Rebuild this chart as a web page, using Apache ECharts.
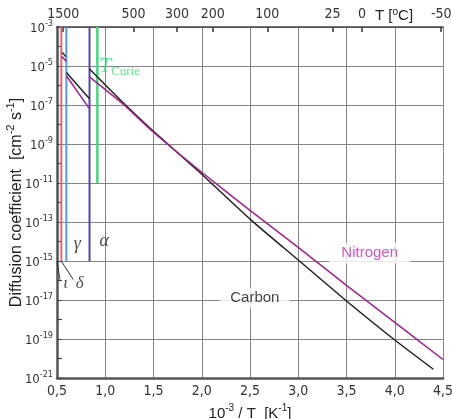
<!DOCTYPE html>
<html>
<head>
<meta charset="UTF-8">
<title>Diffusion coefficient</title>
<script src="https://cdn.jsdelivr.net/npm/echarts@6/dist/echarts.min.js"></script>
<style>
  html, body { margin: 0; padding: 0; background: #fff; }
</style>
</head>
<body>
<div id="main" style="width:452px;height:419px;"></div>
<script type="text/javascript">
// x = 1000/T [1/K], y = log10 of D [cm^2/s]
var tempTicksC = [1500, 500, 300, 200, 100, 25, 0, -50];
var xTicks = [0.5, 1.0, 1.5, 2.0, 2.5, 3.0, 3.5, 4.0, 4.5];

// phase boundaries: liquid/delta, delta/gamma, gamma/alpha, Curie
var phaseX = [0.545, 0.597, 0.837, 0.918];
var phaseBottom = [-15, -15, -15, -11];
var phaseColors = ['#e06a6a', '#4d9be8', '#4b4aa8', '#3ae07a'];

// carbon (black)
var carbonDelta = [[0.555, -4.30], [0.590, -4.52]];
var carbonGamma = [[0.597, -5.33], [0.837, -6.68]];
var carbonAlpha = [[0.837, -5.15], [1.2, -6.95], [1.5, -8.35], [2.0, -10.55], [2.5, -12.85],
                   [3.0, -14.95], [3.5, -17.05], [4.0, -19.05], [4.4, -20.55]];

// nitrogen (magenta)
var nitroDelta = [[0.550, -4.52], [0.597, -4.75]];
var nitroGamma = [[0.597, -5.50], [0.837, -7.20]];
var nitroAlpha = [[0.837, -5.56], [1.2, -7.02], [1.5, -8.40], [2.0, -10.45], [2.5, -12.40],
                  [3.0, -14.30], [3.5, -16.25], [4.0, -18.15], [4.5, -20.05]];

// text labels inside the plot
var annoText = ['Carbon', 'Nitrogen', 'γ', 'α', 'ι', 'δ'];
var annoX = [2.55, 3.74, 0.71, 0.99, 0.59, 0.735];
var annoY = [-16.9, -14.6, -14.15, -14.0, -16.15, -16.15];

var leaderLines = [
  [[0.500, -15.0], [0.530, -15.95]],
  [[0.548, -15.03], [0.668, -15.95]]
];

var myChart = echarts.init(document.getElementById('main'));

var tickFont = "'DejaVu Sans Condensed', 'Liberation Sans', sans-serif";
var CARBON = '#222222';
var NITRO = '#a3208c';

function nearestTemp(v) {
  var best = tempTicksC[0], d = 1e9;
  for (var i = 0; i < tempTicksC.length; i++) {
    var p = 1000 / (tempTicksC[i] + 273.15);
    if (Math.abs(p - v) < d) { d = Math.abs(p - v); best = tempTicksC[i]; }
  }
  return best;
}
var tempPos = tempTicksC.map(function (t) { return 1000 / (t + 273.15); });

var series = [];
// phase boundary lines
for (var i = 0; i < phaseX.length; i++) {
  series.push({
    type: 'line', data: [[phaseX[i], -3], [phaseX[i], phaseBottom[i]]],
    symbol: 'none', silent: true,
    lineStyle: { color: phaseColors[i], width: i == 3 ? 2.5 : 2 }
  });
}
[carbonDelta, carbonGamma, carbonAlpha].forEach(function (d) {
  series.push({ type: 'line', data: d, symbol: 'none', smooth: 0.2,
    lineStyle: { color: CARBON, width: 1.5 } });
});
[nitroDelta, nitroGamma, nitroAlpha].forEach(function (d) {
  series.push({ type: 'line', data: d, symbol: 'none', smooth: 0.2,
    lineStyle: { color: NITRO, width: 1.5 } });
});
leaderLines.forEach(function (d) {
  series.push({ type: 'line', data: d, symbol: 'none',
    lineStyle: { color: '#333', width: 1 } });
});

// annotation labels
var annoStyles = [
  { color: '#111', fontSize: 15, fontFamily: 'Liberation Sans', backgroundColor: '#fff', padding: [3, 10] },
  { color: '#c02eb0', fontSize: 15, fontFamily: 'Liberation Sans', backgroundColor: '#fff', padding: [3, 12] },
  { color: '#222', fontSize: 18, fontStyle: 'italic', fontFamily: 'Liberation Serif' },
  { color: '#222', fontSize: 18, fontStyle: 'italic', fontFamily: 'Liberation Serif' },
  { color: '#222', fontSize: 17, fontStyle: 'italic', fontFamily: 'Liberation Serif' },
  { color: '#222', fontSize: 17, fontStyle: 'italic', fontFamily: 'Liberation Serif' }
];
var annoData = [];
for (var i = 0; i < annoText.length; i++) {
  var lab = Object.assign({ show: true, position: 'inside', formatter: annoText[i] }, annoStyles[i]);
  annoData.push({ value: [annoX[i], annoY[i]], label: lab });
}
annoData.push({
  value: [0.94, -5.05],
  label: {
    show: true, position: 'right', distance: 0,
    formatter: '{t|T}{c|Curie}',
    rich: {
      t: { color: '#2fe070', fontSize: 21, fontStyle: 'italic', fontFamily: 'Liberation Serif' },
      c: { color: '#2fe070', fontSize: 13, fontFamily: 'Liberation Serif', padding: [10, 0, 0, 0] }
    }
  }
});
series.push({ type: 'scatter', data: annoData, symbolSize: 0, silent: true, z: 5 });

var option = {
  animation: false,
  backgroundColor: '#fff',
  grid: { left: 57, right: 9, top: 27, bottom: 41, containLabel: false, outerBoundsMode: 'none' },
  xAxis: [{
    type: 'value', position: 'bottom', min: 0.5, max: 4.5, interval: 0.5,
    name: '{n|10}{s|-3}{n| / T  [K}{s|-1}{n|]}',
    nameLocation: 'middle', nameGap: 23,
    nameTextStyle: {
      rich: {
        n: { fontSize: 15, fontFamily: 'Liberation Sans', color: '#222', verticalAlign: 'bottom', lineHeight: 18 },
        s: { fontSize: 10, fontFamily: 'Liberation Sans', color: '#222', verticalAlign: 'top', lineHeight: 18 }
      }
    },
    axisLine: { show: true, onZero: false, lineStyle: { color: '#555', width: 2.5 } },
    axisTick: { show: false },
    axisLabel: {
      margin: 6, fontSize: 14, fontFamily: tickFont, color: '#333', hideOverlap: false,
      formatter: function (v) { return v.toFixed(1).replace('.', ','); }
    },
    splitLine: { show: true, lineStyle: { color: '#777', width: 0.9 } }
  }, {
    type: 'value', position: 'top', min: 0.5, max: 4.5,
    name: 'T [{s|o}C]', nameLocation: 'end', nameGap: -68,
    nameTextStyle: {
      fontSize: 15, fontFamily: 'Liberation Sans', color: '#222',
      verticalAlign: 'bottom', padding: [0, 0, 3, 0],
      rich: { s: { fontSize: 10, fontFamily: 'Liberation Sans', color: '#222', padding: [0, 0, 7, 0] } }
    },
    axisLine: { show: true, onZero: false, lineStyle: { color: '#444', width: 1.5 } },
    axisTick: { show: true, inside: true, length: 5, customValues: tempPos, lineStyle: { color: '#333', width: 1.5 } },
    axisLabel: {
      customValues: tempPos, margin: 6, fontSize: 14, fontFamily: tickFont, color: '#333', hideOverlap: false,
      formatter: function (v) { return String(nearestTemp(v)); }
    },
    splitLine: { show: false }
  }],
  yAxis: {
    type: 'value', min: -21, max: -3, interval: 2,
    name: '{n|Diffusion coefficient  [cm}{s|-2}{n| s}{s|-1}{n|]}',
    nameLocation: 'middle', nameGap: 32, nameMoveOverlap: false,
    nameTextStyle: {
      rich: {
        n: { fontSize: 16, fontFamily: 'Liberation Sans', color: '#222', verticalAlign: 'bottom', lineHeight: 20 },
        s: { fontSize: 11, fontFamily: 'Liberation Sans', color: '#222', verticalAlign: 'top', lineHeight: 20 }
      }
    },
    axisLine: { show: true, onZero: false, lineStyle: { color: '#555', width: 2.5 } },
    axisTick: { show: true, inside: true, length: 5, lineStyle: { color: '#444' } },
    minorTick: { show: true, splitNumber: 2, length: 5, lineStyle: { color: '#444', width: 1.2 } },
    axisLabel: {
      margin: 4, color: '#333', hideOverlap: false,
      formatter: function (v) { return '{b|10}{s|' + v + '}'; },
      rich: {
        b: { fontSize: 13, fontFamily: tickFont, color: '#333', verticalAlign: 'bottom', lineHeight: 16 },
        s: { fontSize: 9, fontFamily: tickFont, color: '#333', verticalAlign: 'top', lineHeight: 16 }
      }
    },
    splitLine: { show: true, lineStyle: { color: '#777', width: 0.9 } }
  },
  series: series
};
myChart.setOption(option);
</script>
</body>
</html>
